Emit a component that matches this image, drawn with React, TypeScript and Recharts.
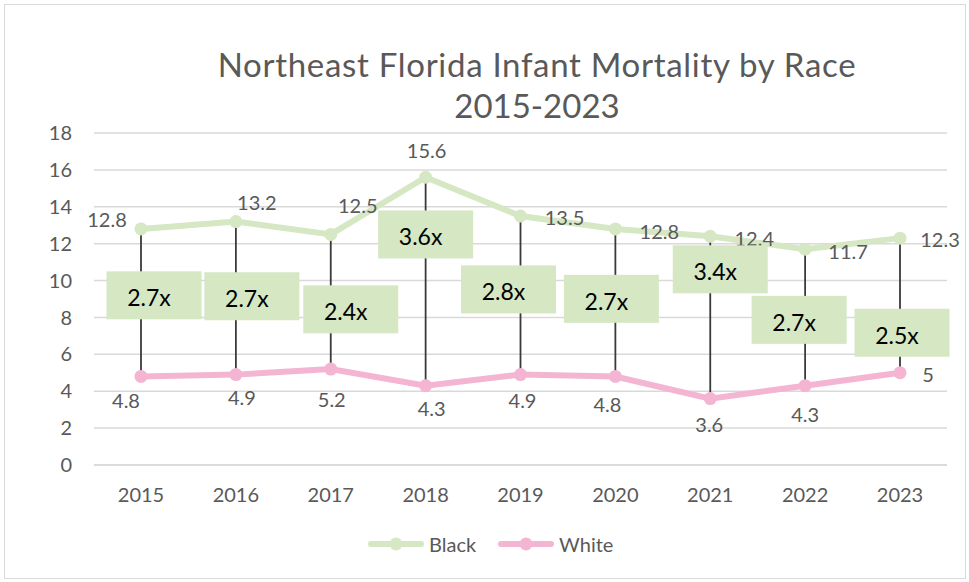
import React from 'react';
import { LineChart, Line, XAxis, YAxis, CartesianGrid, LabelList, ErrorBar, Legend } from 'recharts';

// ---- data ----
const years = ['2015', '2016', '2017', '2018', '2019', '2020', '2021', '2022', '2023'];
const blackRates = [12.8, 13.2, 12.5, 15.6, 13.5, 12.8, 12.4, 11.7, 12.3];
const whiteRates = [4.8, 4.9, 5.2, 4.3, 4.9, 4.8, 3.6, 4.3, 5];
const ratioLabels = ['2.7x', '2.7x', '2.4x', '3.6x', '2.8x', '2.7x', '3.4x', '2.7x', '2.5x'];
const yTicks = [0, 2, 4, 6, 8, 10, 12, 14, 16, 18];

// ---- annotation layout (where the ratio boxes / labels sit) ----
const boxLevel = [9.2, 9.15, 8.44, 12.5, 9.52, 9.01, 10.61, 7.87, 7.17];
const boxShiftX = [13, 16, 20, 0, -12, -4, 10, -6, 2];
const blackLabelShift = [[-34, -10], [21, -20], [27, -29], [1, -27], [44, 1], [44, 2], [44, 2], [43, 2], [40, 1]];
const whiteLabelShift = [[-15, 24], [6, 22], [1, 30], [6, 22], [2, 25], [-8, 28], [-1, 25], [0, 28], [28, 1]];

const GREEN = '#d5e7c3';
const PINK = '#f4b5d3';
const TEXT = '#595959';
const FONT = 'Lato, "Open Sans", sans-serif';

const data = years.map((y, i) => ({
  year: y,
  black: blackRates[i],
  white: whiteRates[i],
  gap: [0, +(blackRates[i] - whiteRates[i]).toFixed(2)],
  boxLevel: boxLevel[i],
  ratio: ratioLabels[i],
}));

const pos = (p: any) => {
  const vb = p.viewBox || {};
  const x = (vb.x ?? p.x ?? 0) + (vb.width || 0) / 2;
  const y = (vb.y ?? p.y ?? 0) + (vb.height || 0) / 2;
  return { x, y };
};

const makeValueLabel = (shifts: number[][]) => (p: any) => {
  const { x, y } = pos(p);
  const i = p.index ?? 0;
  const [dx, dy] = shifts[i] || [0, 0];
  return (
    <text x={x + dx} y={y + dy} textAnchor="middle" dominantBaseline="central"
      fontFamily={FONT} fontSize={20} fill={TEXT}>{p.value}</text>
  );
};

const renderBox = (p: any) => {
  const { x, y } = pos(p);
  const i = p.index ?? 0;
  const cx = x + boxShiftX[i];
  const w = 95, h = 48;
  return (
    <g>
      <rect x={cx - w / 2} y={y - h / 2} width={w} height={h} fill={GREEN} />
      <text x={cx - 5} y={y + 2} textAnchor="middle" dominantBaseline="central"
        fontFamily={FONT} fontSize={23} fill="#000">{p.value}</text>
    </g>
  );
};

const renderLegend = () => (
  <div style={{ display: 'flex', alignItems: 'center', fontFamily: FONT, fontSize: 20, color: TEXT, height: 28 }}>
    {[['Black', GREEN], ['White', PINK]].map(([name, c], k) => (
      <div key={name} style={{ display: 'flex', alignItems: 'center', marginLeft: k ? 22 : 0 }}>
        <svg width={56} height={14}>
          <line x1={3} x2={53} y1={7} y2={7} stroke={c} strokeWidth={6} strokeLinecap="round" />
          <circle cx={28} cy={7} r={6.5} fill={c} />
        </svg>
        <span style={{ marginLeft: 5 }}>{name}</span>
      </div>
    ))}
  </div>
);

export default function App() {
  return (
    <div style={{ position: 'absolute', left: 0, top: 0, width: 969, height: 582, background: '#fff', fontFamily: FONT }}>
      <LineChart width={969} height={582} data={data} margin={{ top: 133, right: 22, bottom: 59, left: 34 }}>
        <CartesianGrid vertical={false} stroke="#d9d9d9" strokeWidth={1.5} />
        <XAxis dataKey="year" padding={{ left: 47, right: 47 }} axisLine={{ stroke: '#d9d9d9', strokeWidth: 1.5 }}
          tickLine={false} tickSize={0} tickMargin={23} tick={{ fill: TEXT, fontSize: 20, fontFamily: FONT }} />
        <YAxis domain={[0, 18]} ticks={yTicks} axisLine={false} tickLine={false} tickSize={0} tickMargin={22}
          width={60} tick={{ fill: TEXT, fontSize: 20, fontFamily: FONT }} />
        <Legend content={renderLegend} wrapperStyle={{ position: 'absolute', top: 530, left: 368, width: 270, height: 28 }} />
        <Line dataKey="black" name="Black" stroke={GREEN} strokeWidth={6} isAnimationActive={false}
          dot={{ r: 6.5, fill: GREEN, stroke: GREEN, strokeWidth: 0 }} activeDot={false}>
          <LabelList dataKey="black" content={makeValueLabel(blackLabelShift)} />
        </Line>
        <Line dataKey="white" name="White" stroke={PINK} strokeWidth={6} isAnimationActive={false}
          dot={{ r: 6.5, fill: PINK, stroke: PINK, strokeWidth: 0 }} activeDot={false}>
          <LabelList dataKey="white" content={makeValueLabel(whiteLabelShift)} />
        </Line>
        <Line dataKey="white" legendType="none" stroke="none" strokeWidth={0} dot={false} activeDot={false} isAnimationActive={false}>
          <ErrorBar dataKey="gap" width={0} stroke="#3a3a3a" strokeWidth={1.8} direction="y" />
        </Line>
        <Line dataKey="boxLevel" legendType="none" stroke="none" strokeWidth={0} dot={false} activeDot={false} isAnimationActive={false}>
          <LabelList dataKey="ratio" content={renderBox} />
        </Line>
      </LineChart>
      <div style={{ position: 'absolute', left: 4, top: 4, width: 962, height: 575, border: '1.5px solid #d9d9d9', boxSizing: 'border-box', pointerEvents: 'none' }} />
      <div style={{ position: 'absolute', left: 187, top: 44, width: 700, textAlign: 'center', fontSize: 33, lineHeight: '41px', color: TEXT, fontFamily: FONT }}>
        <div style={{ letterSpacing: '0.7px' }}>Northeast Florida Infant Mortality by Race</div>
        <div>2015-2023</div>
      </div>
    </div>
  );
}
